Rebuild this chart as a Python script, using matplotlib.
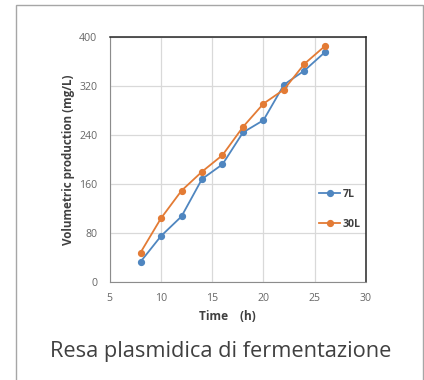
import matplotlib
matplotlib.use("Agg")
import matplotlib.pyplot as plt
from matplotlib.patches import Rectangle

time_h = [8, 10, 12, 14, 16, 18, 20, 22, 24, 26]
prod_7l = [33, 75, 107, 168, 192, 244, 264, 322, 345, 375]
prod_30l = [48, 104, 149, 180, 207, 253, 291, 314, 356, 385]
x_ticks = [5, 10, 15, 20, 25, 30]
y_ticks = [0, 80, 160, 240, 320, 400]

plt.rcParams["font.family"] = ["Open Sans", "DejaVu Sans"]

fig = plt.figure(figsize=(4.24, 3.80), dpi=100)
ax = fig.add_axes([0.259, 0.258, 0.604, 0.645])

ax.plot(time_h, prod_7l, color="#4f86c0", marker="o", markersize=4.2,
        linewidth=1.3, label="7L")
ax.plot(time_h, prod_30l, color="#e37b35", marker="o", markersize=4.2,
        linewidth=1.3, label="30L")

ax.set_xlim(5, 30)
ax.set_ylim(0, 400)
ax.set_xticks(x_ticks)
ax.set_yticks(y_ticks)
ax.grid(True, color="#d9d9d9", linewidth=0.9)
ax.set_axisbelow(True)
ax.tick_params(length=0, labelsize=7.6, colors="#666666")
ax.tick_params(axis="x", pad=8)
ax.tick_params(axis="y", pad=9)
for side in ("left", "bottom"):
    ax.spines[side].set_color("#8c8c8c")
for side in ("top", "right"):
    ax.spines[side].set_color("#262626")
    ax.spines[side].set_linewidth(1.1)

ax.set_xlabel("Time\u3000(h)", fontsize=8.6, fontweight="bold", color="#404040",
              family=["Open Sans", "Noto Sans CJK SC", "DejaVu Sans"])
ax.xaxis.set_label_coords(0.46, -0.115)
ax.set_ylabel("Volumetric production (mg/L)", fontsize=8.4, fontweight="bold",
              color="#404040", labelpad=3)

leg = ax.legend(loc="upper left", bbox_to_anchor=(0.78, 0.42), frameon=False,
                fontsize=7.6, handlelength=2.0, handletextpad=0.2,
                labelspacing=1.8)
for t in leg.get_texts():
    t.set_color("#404040")
    t.set_fontweight("bold")

fig.text(0.521, 0.076, "Resa plasmidica di fermentazione", ha="center",
         va="center", fontsize=15.7, color="#404040")

fig.add_artist(Rectangle((16 / 424, -0.05), (423 - 16) / 424, 1 - 5 / 380 + 0.05,
                         transform=fig.transFigure, fill=False,
                         edgecolor="#a6a6a6", linewidth=1.0))

fig.savefig("out.png", dpi=100)
